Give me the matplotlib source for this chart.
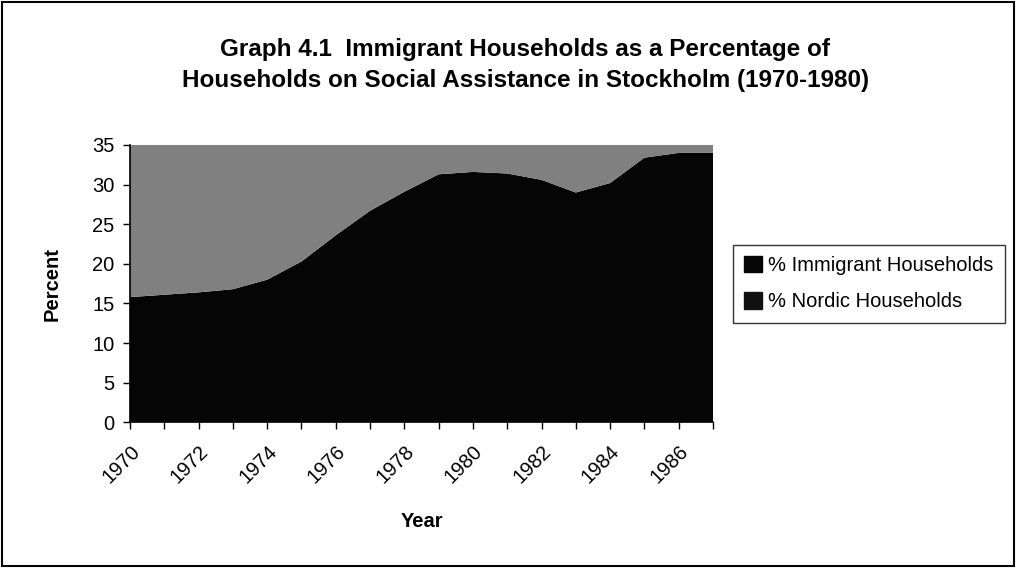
"""
Graph 4.1: immigrant vs Nordic households on social assistance, Stockholm.
Stacked area chart, y-axis clipped at 35 %.
"""

import matplotlib
matplotlib.use('Agg')
import matplotlib.pyplot as plt
from matplotlib.patches import Patch, Rectangle

plt.rcParams.update({
    'font.family': ['Liberation Sans', 'DejaVu Sans', 'sans-serif'],
    'font.size': 12,
})

# Data
years = list(range(1970, 1988))
immigrant_pct = [15.8, 16.1, 16.4, 16.8, 18.0, 20.3, 23.6, 26.7, 29.1,
                 31.3, 31.6, 31.4, 30.6, 29.0, 30.2, 33.4, 34.0, 34.0]
nordic_pct = [100 - v for v in immigrant_pct]
tick_years = list(range(1970, 1987, 2))
y_ticks = [0, 5, 10, 15, 20, 25, 30, 35]

fig = plt.figure(figsize=(10.18, 5.69), dpi=100)
ax = fig.add_axes([0.1277, 0.2578, 0.5727, 0.4874])

ax.stackplot(years, immigrant_pct, nordic_pct,
             colors=['#050505', '#808080'], linewidth=0)

ax.set_xlim(years[0], years[-1])
ax.set_ylim(0, 35)
ax.set_yticks(y_ticks)
ax.set_xticks(years)
ax.set_xticklabels([str(y) if y in tick_years else '' for y in years],
                   rotation=45, ha='right', rotation_mode='anchor')
ax.tick_params(axis='both', direction='out', length=5, width=1,
               labelsize=14.5, pad=6)
ax.tick_params(axis='x', pad=9)

for side in ['top', 'right']:
    ax.spines[side].set_visible(False)
for side in ['left', 'bottom']:
    ax.spines[side].set_linewidth(1.2)

ax.set_ylabel('Percent', fontweight='bold', fontsize=14.5, labelpad=22)
ax.set_xlabel('Year', fontweight='bold', fontsize=14.5, labelpad=18)

fig.text(0.516, 0.886,
         'Graph 4.1  Immigrant Households as a Percentage of\n'
         'Households on Social Assistance in Stockholm (1970-1980)',
         ha='center', va='center', fontsize=17.5, fontweight='bold',
         linespacing=1.45)

# Both legend keys print as black in the scanned original
handles = [Patch(facecolor='#050505', edgecolor='#050505'),
           Patch(facecolor='#111111', edgecolor='#111111')]
fig.legend(handles, ['% Immigrant Households', '% Nordic Households'],
           loc='upper left', bbox_to_anchor=(0.72, 0.57),
           fontsize=14.5, frameon=True, fancybox=False, edgecolor='black',
           handlelength=0.9, handleheight=0.9, handletextpad=0.3,
           labelspacing=0.85, borderpad=0.55, borderaxespad=0)

# Outer chart border
fig.patches.append(Rectangle((0.002, 0.006), 0.994, 0.99, transform=fig.transFigure,
                             fill=False, edgecolor='black', linewidth=1.5))

fig.savefig('out.png', dpi=100)
plt.close(fig)
